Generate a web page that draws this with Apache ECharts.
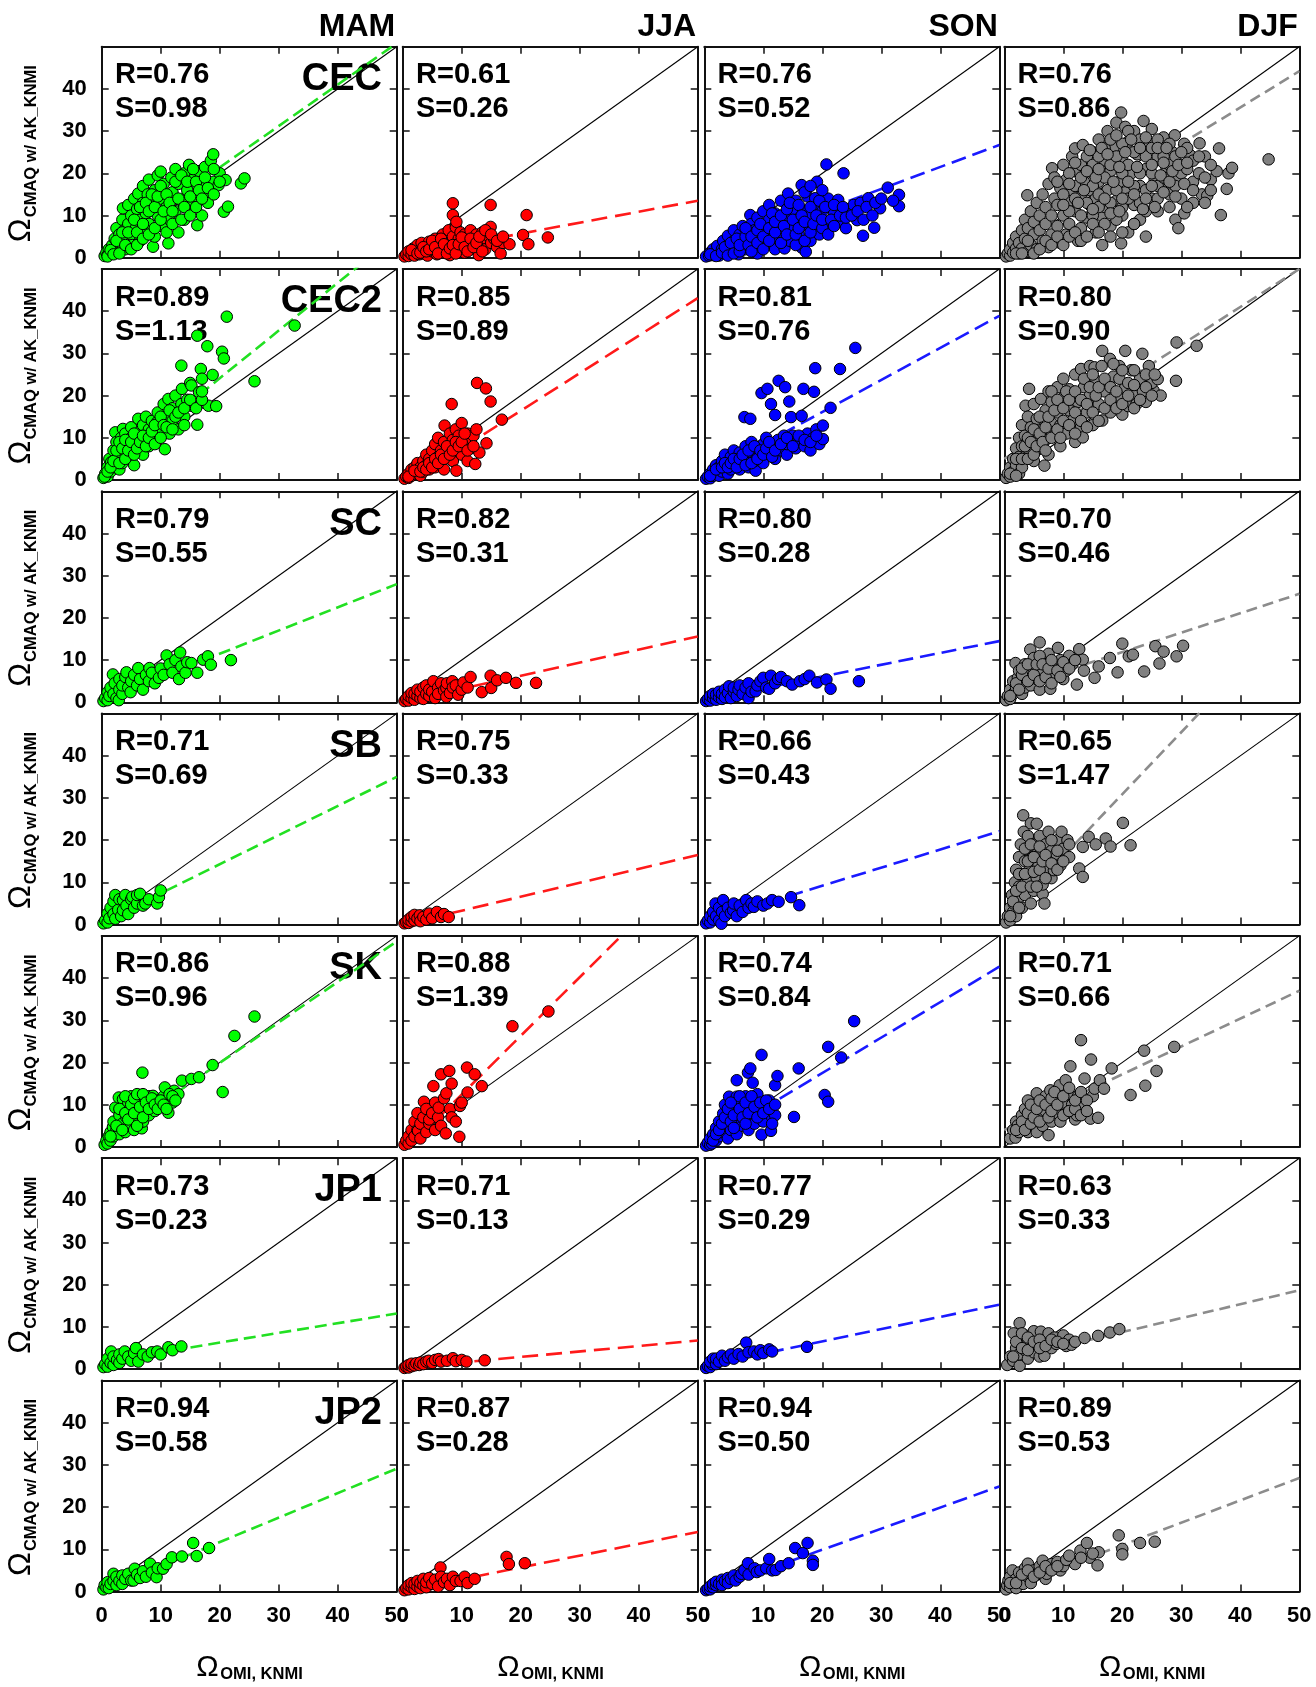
<!DOCTYPE html>
<html><head><meta charset="utf-8">
<script src="https://cdn.jsdelivr.net/npm/echarts@6/dist/echarts.min.js"></script>
<style>html,body{margin:0;padding:0;background:#fff}#c{width:1316px;height:1687px}</style>
</head><body><div id="c"></div><script>
// ---------- categories ----------
const seasons = ['MAM', 'JJA', 'SON', 'DJF'];
const regions = ['CEC', 'CEC2', 'SC', 'SB', 'SK', 'JP1', 'JP2'];
const axisTicks = [0, 10, 20, 30, 40, 50];

// ---------- statistics (rows = regions, cols = seasons) ----------
const R_vals = [
  [0.76, 0.61, 0.76, 0.76],
  [0.89, 0.85, 0.81, 0.80],
  [0.79, 0.82, 0.80, 0.70],
  [0.71, 0.75, 0.66, 0.65],
  [0.86, 0.88, 0.74, 0.71],
  [0.73, 0.71, 0.77, 0.63],
  [0.94, 0.87, 0.94, 0.89]
];
const S_vals = [
  [0.98, 0.26, 0.52, 0.86],
  [1.13, 0.89, 0.76, 0.90],
  [0.55, 0.31, 0.28, 0.46],
  [0.69, 0.33, 0.43, 1.47],
  [0.96, 1.39, 0.84, 0.66],
  [0.23, 0.13, 0.29, 0.33],
  [0.58, 0.28, 0.50, 0.53]
];
const B_vals = [
  [1.8, 0.5, 0.7, 1.2],
  [1.5, -1.4, 0.9, 5.0],
  [0.5, 0.1, 0.5, 2.7],
  [0.5, 0.0, 0.6, 1.5],
  [0.7, -1.5, 0.7, 4.0],
  [1.7, 0.3, 0.8, 2.2],
  [0.1, 0.1, -0.1, 0.4]
];

// ---------- scatter points [OMI, CMAQ] ----------
const cec_mam = [[0.5,0.4],[0.8,1.2],[1,0.6],[1.2,2],[1.5,1],[1.8,3],[2,1.6],[2.2,4.5],[2.5,2.5],[2.5,7],[2.8,1.2],[3,5.5],[3.2,3.5],[3.5,9],[3.6,11.7],[3.8,6.5],[4,2],[4.2,4.5],[4.5,12.5],[4.5,8],[5,10],[5,5.5],[5.2,3],[5.5,14],[5.8,7],[6,11.5],[6.2,15.2],[6.5,4],[6.5,9],[7,13],[7,17],[7.2,6],[7.5,10.5],[7.8,15],[8,18.5],[8,8],[8.5,12.5],[8.7,2.6],[9,16],[9,5],[9.5,19.5],[9.5,10],[10,20.4],[10,14],[10.2,7.5],[10.5,17.5],[11,12],[11.3,3.4],[11.5,9],[11.8,19],[12,15.5],[12.5,21],[12.5,11],[13,17.5],[13,6],[13.5,13.5],[14,20],[14,9],[14.5,16],[14.8,22],[15,12],[15.5,18.5],[16,14.5],[16.2,7.7],[16.5,20.5],[17,10],[17,17],[17.5,21.5],[18,13],[18.3,15.6],[18.5,23],[18.9,24.5],[19,18],[19.8,17.2],[20,20],[20.7,10.9],[21,18.4],[21.4,12.1],[23.6,17.6],[24.2,18.8],
  [1,0.3],[1.5,1.8],[2,0.8],[2.5,4],[3,1],[3.5,6],[4,3],[4.5,6],[5,2],[5.5,9],[6,6],[6,3],[6.5,12],[7,4.5],[7,8],[7.5,13],[8,5.5],[8,11],[8.5,15],[9,7],[9,12],[9.5,14.5],[10,9],[10,17],[10.5,11],[11,6],[11,15],[11.5,13],[12,8],[12,11],[12.5,18],[13,14],[13.5,9],[13.5,19.5],[14,12],[14.5,18],[15,14.5],[15,10],[15.5,21],[16,12],[16,18],[16.5,16],[17,14],[17.5,19],[18,16.5],[19,21],[19,15],[20,18]];
const cec_jja = [[0.3,0.3],[0.6,0.8],[1,0.4],[1,1.5],[1.5,0.8],[1.8,2.2],[2,0.5],[2.2,1.5],[2.5,3],[2.8,0.8],[3,2],[3.2,3.5],[3.5,1],[4,2.5],[4.2,0.5],[4.5,3.8],[5,1.5],[5,3],[5.5,4.5],[5.8,0.8],[6,2.2],[6.5,3.5],[6.8,5.5],[7,1.2],[7.2,2.8],[7.5,4.2],[7.8,6.5],[8,0.6],[8,3.5],[8.5,12.9],[8.5,10.1],[8.5,5],[9,7.2],[9.1,8.5],[9.2,2],[9.5,4.5],[9.8,6],[10,3],[10.5,1.2],[10.5,5.5],[11,3.8],[11.5,6.5],[11.5,2],[12,4.5],[12.5,5.5],[12.9,0.6],[13,3],[13.5,6],[14,4.5],[14,2],[14.5,5.2],[14.9,7.3],[14.9,12.5],[15,3.5],[15.5,4.5],[16,2.5],[16.6,1],[17,3.5],[18.1,3.2],[20.4,5.4],[21,10.1],[21.3,3.2],[24.6,4.8],
  [1.5,1.8],[2.5,1],[3,1.2],[3.5,2.5],[4,1.5],[4.5,2],[5,4],[5.5,2.5],[6,1],[6.5,4.5],[7,3.2],[7.5,1],[8,2.2],[8.5,3],[9,1],[9.5,3.2],[10,4.8],[10.5,2.5],[11,1.5],[11.5,4.5],[12,2.5],[12.5,3.5],[13,5],[13.5,1.5],[14,6.5],[15,5.5],[16,4],[17,5]];
const cec_son = [[0.3,0.3],[0.8,0.5],[1,1.2],[1.5,0.6],[1.5,2],[2,1.2],[2.2,2.8],[2.5,0.5],[3,2],[3.2,4],[3.5,1],[4,3],[4,5.2],[4.5,1.8],[5,4],[5,6.5],[5.5,2.5],[5.8,0.8],[6,5.5],[6.5,3.5],[6.5,7.5],[7,2],[7.2,6],[7.8,10.1],[7.5,4.5],[8,8],[8.5,2.8],[8.5,6.5],[9,1],[9,9.5],[9.5,4.5],[10,7.5],[10,11],[10.5,3],[10.5,5.5],[11,12.5],[11,9],[11.5,6.5],[12,2],[12,10.5],[12.5,4.5],[12.5,8],[13,13.5],[13,6],[13.6,2.2],[14,9.5],[14.2,15.2],[14.5,4],[15,11.5],[15,7],[15.5,13.5],[16,5.5],[16,9],[16.5,17.2],[16.5,2.4],[16.8,11],[17.2,1.4],[17.5,14.5],[17.5,7.5],[18,4],[18,10],[18.8,14.1],[19,12],[19.1,18],[19.1,8.9],[19.5,5.5],[20,11],[20.7,22.1],[21,14],[21,7],[22,10.5],[22.7,13.7],[23,8.5],[23.6,20],[24,7],[24.5,11.5],[25.3,12.5],[25.9,8.9],[26.5,13],[26.9,5.2],[27.8,14.1],[28.8,7.1],[29.8,11.7],[31.1,16.6],[33,14.9],[33,12.2],
  [1,0.8],[2,0.4],[3,1.2],[3.5,2.5],[4,0.5],[4.5,3.5],[5,1],[5.5,4.5],[6,1.5],[6,3],[7,5],[7,7],[7.5,3],[8,1.5],[8,5],[9,3.5],[9,6.5],[9.5,8],[10,2],[10,5],[11,4],[11,7],[11.5,10.5],[12,6],[12,8.5],[13,3.5],[13,10],[13.5,7.5],[14,5.5],[14,11.5],[14.5,13],[15,9],[15.5,3],[15.5,5.5],[16,7],[16,12.5],[16.5,10],[17,4],[17,8.5],[17,15.5],[18,6],[18,12],[18.5,8],[19,10],[19.5,13.5],[20,7],[20,9],[20.5,12],[21,5.5],[21.5,9],[22,7.5],[22,12.5],[23,10],[23.5,12],[24,9.5],[25,10],[26,11],[27,9],[27.5,12],[28.5,10],[29,13],[30,14],[32,13.5],[20,16],[18,17]];
const cec_djf = [[0.3,0.3],[0.6,1],[1,0.5],[1,2],[1.5,1.2],[1.5,3.5],[2,2.2],[2,5],[2.5,1],[2.5,3.5],[3,6.5],[3,2.2],[3.5,4.5],[3.9,14.8],[3.5,9],[4,1.5],[4,7],[4.5,3],[4.5,11],[5,5.5],[5,8.5],[5.5,13],[5.5,2],[6,10],[6,6.5],[6.5,4],[6.5,15],[7,12],[7,8],[7.5,17.5],[7.5,2.5],[8,5.5],[8.1,21.2],[8,10],[8.5,14],[8.5,19],[9,7.5],[9,12.5],[9.5,16.5],[9.5,3.5],[10,22],[10,10],[10.5,5.5],[10.5,18.5],[11,13.5],[11,8],[11.5,24],[11.5,16],[12,25.9],[12,20.5],[12,11],[12.5,4],[13,14.5],[13.3,26.7],[13,7],[13.5,18],[14,22.5],[14,9.5],[14.5,12.5],[14.5,16],[15,25],[15,20],[15.5,6],[15.5,14],[16,28],[16,18],[16.6,3],[16.5,10],[17,23],[17,12],[17.5,30],[17.5,16],[18,20.5],[18,7.5],[18.5,26],[19,13.5],[19,32],[19.5,18],[19.8,34.4],[19.8,3.4],[20,23],[20,10],[20.5,31],[20.5,15.5],[21,27.5],[21,6],[21.5,20],[22,12.5],[22,30],[22.5,24.5],[23,17],[23,9],[23.6,32.4],[24,5],[24,21],[24.5,27],[25,14],[25,30.5],[25.5,18.5],[26,24],[26,11],[26.9,17.2],[27,28.5],[27.5,21],[28,15],[28.5,25],[28.9,29],[29,9],[29.5,7],[29.5,19],[30,22],[30.5,10.5],[30.5,27],[31.5,24.3],[31.8,17.2],[32,13],[33.1,27.1],[33.5,15],[34.4,14.7],[35,18.5],[36.4,25.9],[36,20.5],[36.7,10.1],[37.7,16.3],[38,20],[38.6,21.3],[44.8,23.3],
  [9,18],[10,15],[11,20],[11,11],[12,17],[12,14],[13,22],[13,19],[13,10],[14,24],[14,13],[15,17],[15,10],[15,22],[16,15],[16,24],[16,12],[17,19],[17,26],[17,8],[18,22],[18,13],[18,28],[19,16],[19,24],[19,9],[20,20],[20,27],[20,12],[21,22],[21,14],[21,30],[22,17],[22,25],[22,8],[23,20],[23,28],[23,13],[24,24],[24,16],[24,11],[25,26],[25,20],[26,28],[26,17],[26,14],[27,24],[27,19],[28,22],[28,27],[28,12],[29,17],[29,24],[30,20],[30,14],[31,26],[31,21],[32,18],[32,23],[33,20],[34,24],[35,16],[34,13],
  [2,1],[3,1],[4,4],[5,1],[6,2],[7,4],[8,3],[9,5],[10,3],[11,5],[12,6],[13,4],[14,5],[15,8],[16,6],[18,5],[20,6],[22,8],
  [10,12.5],[11,17.5],[12,22.5],[12.5,13],[13.5,16],[14,20.5],[14.5,25.5],[15,11.5],[15.5,19],[16,21],[16.5,26],[17,14],[17.5,24.5],[18,10.5],[18.5,18],[19,29],[19.5,11],[19.5,21.5],[20,14],[20.5,25],[21,18],[21.5,28],[22,15],[22.5,21.5],[23,26],[23.5,11.5],[24,14],[24,28.5],[25,17],[25,22],[25.5,12],[26,26],[26.5,19.5],[27,15.5],[27,22.5],[27.5,26],[28,18],[28.5,20.5],[29,14.5],[29.5,22],[30,25],[30.5,17.5],[31,12],[31,22.5],[32,16],[33,24],[34,19],[35,22]];

const cec2_mam = [[0.3,0.5],[0.6,1.5],[1,0.8],[1,3],[1.3,5],[1.5,2],[1.6,4.2],[2,7],[2,3],[2.3,11.3],[2.5,5],[2.5,9],[3,2.5],[3,6.5],[3.3,10],[3.6,12.1],[3.5,4],[4,8],[4,11],[4.5,5.5],[5,10],[5,12.5],[5,7],[5.5,3.5],[6,9],[6.2,14.5],[6.5,11.5],[7,6],[7,13],[7.5,10],[7.5,15],[8,8],[8,12],[8.5,14],[9,10],[9.4,13.7],[9.5,16],[10,12],[10.5,18],[10.7,7.3],[11,15],[11.3,19.2],[11.5,11],[12,14],[12,17],[12.5,20],[13,12],[13.5,18],[13.6,21.6],[13.5,27.1],[14,15],[14.5,19],[15,23],[15.2,17.6],[15.2,22.4],[16.2,13.1],[16.5,20.8],[16.8,26.3],[16.2,34.2],[17,24],[17.9,31.7],[18.1,17.6],[18.8,24.9],[19.4,17.5],[20.4,30.4],[20.7,28.8],[21.2,38.7],[25.9,23.4],[32.7,36.6],
  [0.5,0.8],[1,2],[1.5,3],[2,4.5],[2.5,7],[3,4],[3,9],[3.5,7.5],[4,5],[4,9.5],[4.5,7],[5,9],[5.5,6],[5.5,11],[6,7.5],[6.5,9],[7,10.5],[7.5,8],[8,10],[8.5,11.5],[9,8.5],[9,13],[10,10],[10,15],[10.5,13],[11,12.5],[11.5,16.5],[12,12],[12.5,15],[13,16],[14,13],[14,17],[15,19],[16,17],[17,19],[17,21]];
const cec2_jja = [[0.3,0.3],[0.6,0.8],[1,0.5],[1,1.5],[1.5,1],[1.5,2.5],[2,1.5],[2,3],[2.5,2],[2.5,4],[3,1],[3,3],[3.5,4.5],[3.5,2],[4,3.5],[4,6],[4.5,2.5],[4.5,5],[5,4],[5,7],[5.5,3],[5.5,8.5],[6,5.5],[6,10],[6.5,4],[6.5,7],[7,9],[7.1,12.9],[7,2.5],[7.5,6],[8,8],[8,11],[8.3,18],[8.5,4.5],[8.5,9.5],[9,7],[9,12],[9.1,2.2],[9.5,10.5],[10,13.5],[10,6],[10.5,9],[11,11],[11,4.5],[11.5,7.5],[11.6,8.9],[12,10.5],[12.3,3.8],[12.6,23],[12.5,12],[13,6.5],[14.1,21.7],[14.2,8.7],[14.9,18.6],[16.8,14.3],
  [1,0.8],[2,2.2],[3,2],[3.5,3],[4,2.5],[4.5,4],[5,3],[5.5,5],[6,4],[6.5,6],[7,5],[7.5,8],[8,6],[8.5,7],[9,9],[9.5,8],[10,9],[10.5,11],[11,7],[12,8]];
const cec2_son = [[0.3,0.3],[0.6,0.8],[1,0.4],[1,1.5],[1.5,1],[1.5,2.5],[2,1.8],[2,3.5],[2.5,1],[2.5,3],[3,2],[3,4.5],[3.5,3],[3.5,6],[4,1.5],[4,4],[4.5,5.5],[4.5,2.5],[5,3.5],[5,7],[5.5,5],[6,2.5],[6,6.5],[6.5,4],[6.8,14.9],[7,8],[7,5.5],[7.5,3],[7.8,14.5],[8,6.5],[8,9],[8.7,2.2],[8.5,4.5],[9,7.5],[9.5,5.5],[9.7,20.6],[10,8.5],[10,4],[10.5,10],[10.7,21.6],[11,6.5],[11.3,18],[11.5,8],[12,15.4],[12,5],[12.5,9.5],[12.6,23.5],[13,7],[13.5,10.5],[13.7,22],[14,6],[14,8.5],[14.4,18.6],[14.7,14.9],[15,10.5],[15.5,7.5],[16,9.5],[16.5,15.2],[16.8,21.6],[17,8],[17.5,11],[18,7],[18.6,20.9],[18.8,26.5],[18.5,10],[19,12],[19.5,8.5],[20.1,9.7],[20.1,12.9],[21.4,17.1],[23,26.3],[25.6,31.3],
  [1,1],[2,2.5],[3,3],[3.5,4],[4,3],[4.5,4],[5,5],[5.5,3],[6,5],[6.5,6],[7,3.5],[7.5,7],[8,4],[8.5,8],[9,5],[9.5,7],[10,6],[10.5,7.5],[11,9],[11.5,5.5],[12,7],[13,8.5],[14,10],[15,8],[16,10.5],[17,9.5],[18,9],[19,10.5]];
const cec2_djf = [[0.3,0.5],[0.6,1.5],[1,0.8],[1,3],[1.5,2],[1.5,5],[2,3.5],[2,7.5],[2.5,1.5],[2.5,5.5],[2.5,10],[3,3],[3,8],[3,13],[3.6,17.6],[3.5,5.5],[3.5,10.5],[4,7.5],[4.2,21.6],[4,15],[4.5,12.5],[4.9,7.7],[5,4.5],[5,18],[5.5,10],[5.5,14.5],[6,7.5],[6.2,19.2],[6.5,12],[6.8,3.4],[7,16.5],[7,9.5],[7.5,21],[7.5,6],[8,13.5],[8,18.5],[8.5,10.5],[9,22],[9,16],[9.5,8],[9.5,13],[10,19.5],[10,24],[10.5,11],[11,16.5],[11,21.5],[11.5,14],[12,9],[12,25],[12.5,18.5],[13,26.3],[13,12.5],[13.3,10.1],[13.5,22],[14,16],[14.5,20],[14.5,27],[15,13],[15.3,26.7],[15.5,23.5],[16,18],[16.6,30.6],[16.6,14.1],[17,21],[17.9,28.7],[18,16],[18.5,24.5],[19,19],[19.5,27],[19.8,19.2],[20,15.5],[20.5,30.6],[20.5,22],[21,17.5],[21.5,26],[22,20],[22.4,18],[23,24],[23.4,29.9],[23.5,21],[24,18.5],[24.5,27],[25.3,21.2],[25,23],[26,23.9],[26.5,20],[29.1,23.5],[29.2,32.6],[32.6,31.8],
  [1,1.5],[2,1],[2,5],[3,5],[3.5,8],[4,10],[4,5],[4.5,9],[5,6],[5,12],[5.5,8],[6,11],[6,15],[6.5,9],[7,7],[7,12.5],[7.5,15],[8,10],[8,21],[8.5,16.5],[9,12],[9,19],[9.5,10],[10,14],[10,17],[10.5,21],[11,13],[11,19],[12,11],[12,16],[12,21],[13,14],[13,19],[13.5,24],[14,12.5],[14,18],[14.5,22],[15,16],[15,25],[15.5,20],[16,14],[16,22],[16.5,27],[17,17],[17,24],[18,19],[18,22],[18.5,27.5],[19,17],[19,21],[19.5,24],[20,18],[20,26],[21,20],[21,23],[22,17],[22,22.5],[22,26],[23,19],[24,22],[24,25],[25,20],[25.5,25]];

const sc_mam = [[0.3,0.3],[0.6,1],[1,0.5],[1,2.4],[1.3,1.5],[1.5,3.5],[1.9,6.6],[2,2],[2.2,4.5],[2.5,1],[2.9,0.5],[3,3],[3,5.5],[3.5,2],[3.5,4],[4,6],[4.2,7.1],[4.5,3.5],[4.9,2.4],[5,5],[5.5,6.5],[6,4],[6.2,8.1],[6.5,5.5],[7,3],[7.5,6.5],[8,5],[8.1,8.1],[8.5,7],[9,4.5],[9.7,5.8],[10,8],[10.5,6.5],[11,11.1],[11.5,9],[12,7],[12.5,10],[13.1,5.5],[13.3,11.8],[13.5,8.5],[14.2,7],[14.5,9.5],[15.2,9.3],[16.2,7],[17.2,10.1],[18,10.9],[18.5,8.9],[21.9,10]];
const sc_jja = [[0.3,0.3],[0.6,0.8],[1,0.4],[1,1.5],[1.5,1],[1.5,2.2],[2,0.6],[2,2],[2.5,1.5],[2.5,3],[3,1],[3,2.5],[3.5,3.5],[3.5,0.8],[4,2],[4,4],[4.5,1.5],[4.5,3],[5,2.5],[5.2,5],[5.5,1],[6,3.5],[6,2],[6.5,4.5],[7,2.8],[7.4,3.4],[7.4,1.3],[7.5,4.5],[8,2.2],[8.4,5],[8.5,3.5],[9,4],[9.4,1.8],[10,3],[10.3,4.7],[11,3.5],[11.5,6],[13.4,2.4],[14.9,6.3],[15,3.4],[16,5.2],[17.5,5.8],[19.2,4.6],[22.6,4.6]];
const sc_son = [[0.3,0.3],[0.6,0.8],[1,0.4],[1,1.5],[1.5,1],[1.5,2],[2,0.6],[2,1.8],[2.5,1.2],[2.5,2.5],[3,0.8],[3,2],[3.5,3],[3.5,1.2],[4,2.2],[4.2,3.8],[4.5,1],[5,2.5],[5,3.5],[5.5,1.5],[5.8,3],[6,4],[6.5,2],[7,3.5],[7.5,1],[7.5,4.5],[8,2.5],[8.7,2.6],[9,4],[9.5,5],[10,5.8],[10.5,3.5],[11,3.2],[11.3,6.3],[12,4.5],[12.5,5.5],[13,6],[14,5],[14.9,4.2],[16.2,5],[17,5.5],[17.8,6.3],[19.1,4.7],[20.7,5.4],[21.4,3.2],[26.2,5]];
const sc_djf = [[0.3,0.5],[0.6,1.5],[1,0.8],[1,3],[1.5,2],[1.5,5],[1.9,9.3],[2,3.5],[2.3,5.8],[2.5,7.5],[3,2],[3,5],[3.5,9],[3.5,3.5],[4,6.5],[4.4,12.5],[4.5,4],[5,8],[5,10.5],[5.5,5.5],[6,14.2],[6,3],[6.5,7],[7,9.5],[7.5,11.5],[7.8,3.2],[8,6],[8.5,8.5],[9.1,12.9],[9.5,10],[10,5.5],[10.5,7.5],[11,11],[11.5,9],[12.3,4.2],[12.7,12.6],[13.3,10.1],[13.5,7.5],[15.3,5.8],[16,8.5],[17.9,10.5],[19.2,7.1],[20,13.9],[21.1,10.9],[21.8,11.3],[23.7,7.3],[25.6,13.3],[26.3,9.2],[27,12],[29.2,10.9],[30.3,13.4],
  [1,1.5],[2,4.5],[2.5,3],[3,6.5],[3,8],[4,5],[4,9],[5,6.5],[5.5,9],[6,5],[6,11],[6.5,9],[7,6],[7.5,8],[8,10],[8,4.5],[9,7.5],[9.5,6],[10,9.5],[11,8],[12,10]];

const sb_mam = [[0.3,0.3],[0.6,1],[1,0.5],[1,2.6],[1.3,1.5],[1.5,4],[2,2.5],[2,5.5],[2.3,7],[2.3,1.4],[2.8,3.5],[3,6],[3.3,2],[3.6,5.8],[3.6,3.4],[4,7],[4.2,4.5],[4.5,2.5],[5,6],[5.2,6.6],[5.5,4],[6,5],[6,7],[6.5,7.3],[7,4.5],[7.4,5],[8,6],[9.4,5],[9.7,6.5],[10,8.1]];
const sb_jja = [[0.3,0.3],[0.6,0.6],[1,0.4],[1,1.2],[1.5,0.8],[1.5,1.8],[2,1],[2,2.3],[2.5,1.5],[2.9,2.2],[3,0.8],[3.5,1.8],[4,1.2],[4.5,2.6],[5,1.5],[5.8,3],[6.5,1.8],[7,2.5],[7.8,1.8]];
const sb_son = [[0.3,0.3],[0.6,1],[1,0.5],[1,2],[1.5,1.2],[1.5,3],[1.9,5],[2,2],[2.5,4],[2.5,1],[2.9,0.2],[3,3],[3.2,5.8],[3.5,2],[4,4],[4.5,2.8],[4.9,3.4],[5,5],[5.5,2],[6,4.5],[6.5,3],[7.1,5.8],[7.5,4],[8,5],[8.4,4.2],[9,5.5],[10,4.5],[10.7,5],[11.5,5.8],[12.6,5.4],[14.7,6.5],[16.1,4.6]];
const sb_djf = [[0.3,0.5],[0.6,2],[1,1],[1,4],[1.3,7],[1.5,3],[1.6,5],[1.8,10],[2,2],[2,13],[2.3,6],[2.5,16],[2.5,9],[2.8,19],[3,4],[3,12],[3.2,25.9],[3.3,22],[3.5,15],[3.5,7],[3.8,18],[4,10],[4,21],[4.3,13],[4.5,5],[4.5,24],[4.8,16],[5,8],[5,19],[5.5,11],[5.5,23.9],[5.8,14],[6,21],[6.2,17],[6.5,7.3],[6.5,9.5],[6.8,5],[7,13],[7,19],[7.5,15.5],[7.5,22],[8,11],[8,17.5],[8.4,12.9],[8.8,16.8],[9,20],[9.5,14],[9.7,22],[10,18],[10.7,20],[11,16],[12.7,13.3],[13.3,11.3],[13.3,18.4],[14.3,20.8],[15.5,19],[17.2,20.4],[18,18.5],[20.1,24.1],[21.4,18.8],
  [1,2],[1.5,5.5],[2,8],[2.5,4],[2.5,12],[3,9],[3.5,12],[3.5,18],[4,15],[4.5,9],[4.5,19],[5,12.5],[5,16],[5.5,9],[6,13],[6,18.5],[6.5,15],[7,11],[7,16.5],[8,14.5],[8,20],[9,13],[9,17.5],[10,15],[11,19]];

const sk_mam = [[0.5,0.5],[0.8,1.5],[1,0.8],[1.2,2.5],[1.5,1.5],[1.5,3.5],[1.9,4.7],[2,6],[2,2.5],[2.3,9.3],[2.5,4],[2.9,11.7],[3,7.5],[3,3],[3.5,5.5],[3.6,11.3],[3.8,9],[4,3.5],[4.2,7],[4.5,10.5],[4.5,5],[5,12],[5,8.5],[5.5,4],[5.5,6.5],[6,10],[6.2,12.1],[6.5,8],[6.8,4.4],[6.9,17.6],[7,11],[7,6],[7.5,9],[8,12],[8,7.5],[8.5,10],[8.7,12.1],[9,8.5],[9.5,11],[10,9.5],[10.5,12],[10.7,14.1],[11,10.5],[11.3,8.1],[11.5,11.5],[12,10.5],[12.3,13.3],[13,12.5],[13.6,15.7],[15.2,16.1],[16.5,16.5],[18.8,19.4],[20.5,13],[22.5,26.3],[25.9,30.9],
  [1.5,2.5],[2.5,5],[3,9],[3.5,4],[4,8],[4,12],[4.5,6.5],[5,10],[5.5,8],[5.5,11.5],[6,5],[6,12.5],[6.5,9.5],[7,7],[7,12.5],[7.5,10.5],[8,9],[8.5,11.5],[9,10],[9.5,9],[10,11],[10.5,10],[11,9],[11.5,12.5],[12,12],[12.5,11]];
const sk_jja = [[0.3,0.5],[0.6,1.5],[1,0.8],[1,2.5],[1.5,1.5],[1.5,4],[2,2.5],[2,6],[2.5,4],[2.6,3.8],[2.5,8],[3,2],[3,5.5],[3.5,7],[3.6,10.7],[4,3.5],[4,9],[4.5,5.5],[4.5,6.5],[5,8],[5.2,14.4],[5.5,4],[5.5,10.5],[6,7],[6.1,9.3],[6.5,17.2],[6.5,5],[7,11.5],[7.3,3.2],[7.4,12.7],[7.9,18],[8,9],[8.3,15],[8.3,7],[9,6],[9.6,2.4],[9.7,9.7],[10,10.5],[10.9,18.8],[11,12.9],[12.2,17.2],[13.4,14.4],[18.6,28.6],[24.7,32.1]];
const sk_son = [[0.3,0.3],[0.6,1],[1,0.5],[1.3,0.8],[1,2],[1.5,3],[2,1.5],[2,4.5],[2.5,6],[2.5,2.5],[3,3.5],[3.2,7.9],[3.5,10],[3.5,5],[4,2],[4.2,11.9],[4,7],[4.5,4],[5,9],[5,6],[5.5,11.9],[5.5,15.8],[5.5,3],[6,7.5],[6,10.5],[6.5,5],[7,9],[7,12],[7.4,17.6],[7.5,4],[7.8,18.6],[8,7],[8.1,10.7],[8.2,15.2],[8.5,5.5],[9,9],[9,12.5],[9.7,21.8],[9.7,2.9],[10,6],[10.5,8.5],[11,11],[11.3,3.8],[11.5,7],[12,7.5],[12,14.6],[12.4,16.8],[15.2,7.1],[16,18.6],[20.4,12.3],[21,10.7],[21,23.7],[23.2,21.2],[25.4,29.8],
  [1.5,1.5],[2,3],[2.5,4],[3,5.5],[3.5,7],[4,9],[4.5,6],[4.5,10.5],[5,4.5],[5,7.5],[6,9],[6,12],[6.5,7],[7,5.5],[7,10.5],[7.5,8],[8,12],[8.5,9.5],[9,7],[9.5,10.5],[10,8],[10.5,11],[11,9],[11.5,5.5],[12,10]];
const sk_djf = [[1,2],[1.5,4],[1.9,2.2],[2,6],[2.3,5.1],[2.5,3.5],[3,7.5],[3,4.5],[3.5,9],[3.5,6],[4,3.5],[4,11],[4.5,7.5],[5,5],[5,9.5],[5.5,12.7],[5.5,3.5],[6,7],[6.5,10.5],[6.5,5],[7,12],[7,8.5],[7.5,2.8],[7.8,13.4],[8,6],[8.5,10],[9,8],[9,12],[9.4,14.6],[9.5,6],[10,10],[10.4,15.8],[10.5,8],[11,12.5],[11.2,19.1],[11.5,10],[12,6.5],[12.3,7.5],[12.5,12],[13,25.3],[13.6,16.2],[13.5,9.5],[14.6,6.7],[14.7,20.7],[15,12],[15.3,13.8],[15.9,6.9],[16.2,15.8],[16.9,13.8],[18.2,18.6],[21.4,12.3],[23.7,22.8],[23.9,14.5],[25.8,18],[28.8,23.7],
  [2,4],[3,6],[3.5,4],[4,8],[4.5,5.5],[4.5,10],[5,7],[5.5,9],[6,11],[6,6],[7,10],[7.5,7],[8,8.5],[8,11.5],[8.5,13],[9,10],[10,7.5],[10,12],[11,8.5],[11,14],[12,9],[12,11],[13,7.5],[13,13],[14,11],[14,8.5]];

const jp1_mam = [[0.3,0.5],[0.6,1.2],[1,0.6],[1,2.5],[1.5,1.5],[1.6,4.2],[2,1],[2,3],[2.6,2.2],[3,3.5],[3,1.5],[3.5,2.5],[3.9,4.2],[4.5,3],[5,2],[5.5,3.8],[5.8,5],[6.2,1.8],[7,3.5],[7.8,3],[8.5,4],[9.4,4.2],[10,3.5],[11.3,5.2],[12,4.5],[13.5,5.4]];
const jp1_jja = [[0.3,0.3],[0.6,0.6],[1,0.4],[1,1],[1.5,0.7],[1.5,1.3],[2,0.9],[2.3,1.4],[2.8,1],[3,1.6],[3.5,1.2],[4,1.8],[4.4,2],[5,1.5],[5.5,2.2],[6.1,2.4],[6.5,1.8],[7.5,2],[8.5,2.6],[9,1.9],[10,2.2],[10.8,1.8],[13.9,2.1]];
const jp1_son = [[0.3,0.3],[0.6,0.8],[1,0.5],[1.3,1.2],[1,1.8],[1.5,2.5],[2,1.2],[2,2.5],[2.5,1.8],[3,3.2],[3.5,2],[4,2.8],[4.5,3.5],[5,2.5],[5.8,3.6],[6.5,3],[7.1,6.3],[7.5,4],[8.4,4.2],[9,3.5],[9.5,4.5],[10,3.8],[11,4.7],[11.5,4.2],[17.4,5.3]];
const jp1_djf = [[0.5,1],[1,3],[1.5,2],[1.6,8.5],[2,5],[2.6,10.9],[2.6,0.8],[2.5,3.5],[3,6.5],[3.5,4.5],[3.5,8],[4,2.5],[4,6],[4.5,7.5],[5,4],[5,9],[5.5,6],[6,3],[6.2,8.9],[6.5,5],[6.8,3.2],[7,7],[7.5,8.5],[8,5],[8.5,7.5],[8.8,6],[9.5,6.5],[10,8],[10.5,5.5],[11,7],[11.4,5.8],[12,6.5],[13.6,7.4],[15.9,7.9],[17.9,8.7],[19.5,9.5],
  [1.5,3],[2,6.5],[3,5],[3,8.5],[4,4.5],[4,7.5],[5,6.5],[6,7],[6,5],[7,5.5],[8,7],[9,6.5],[10,6]];

const jp2_mam = [[0.3,0.5],[0.5,1.5],[0.8,1],[1,2.2],[1.2,0.8],[1.5,1.8],[2,4.2],[2,2.5],[2.5,1.5],[2.5,3.5],[3,2.5],[3.5,3.8],[3.5,1.8],[4,3],[4.5,4.2],[5,2.6],[5.4,2.6],[5.6,5.4],[6,4],[6.5,3.2],[7,4.8],[7.5,3.5],[8.2,6.6],[8.5,4.5],[9.3,3.4],[9.5,5.5],[10.4,5.4],[11,6.5],[11.9,8.1],[13.6,8.3],[15.5,11.5],[16.1,8.4],[18.2,10.3]];
const jp2_jja = [[0.3,0.3],[0.6,0.8],[1,0.5],[1,1.5],[1.5,1],[1.5,2],[2,0.6],[2,1.8],[2.5,1.2],[2.5,2.5],[3,0.8],[3,2],[3.5,1.5],[3.5,3],[4,1],[4,2.2],[4.5,3.2],[5,1.8],[5.5,2.8],[6,1.2],[6.4,5.7],[6.5,3.5],[7,2.2],[7.5,3],[8,1.5],[8.5,3.5],[9,2.5],[9.8,2.5],[10.5,3.5],[11,2],[12.2,3],[17.6,8.2],[18,6.5],[20.7,6.7]];
const jp2_son = [[0.3,0.3],[0.6,0.6],[1,0.5],[1,1.2],[1.5,1],[1.5,1.8],[2,1.5],[2,2.3],[2.5,1.8],[3,2.8],[3,1.5],[3.5,2.5],[4,3.2],[4,2],[4.5,3],[5,3.8],[5.3,2.6],[6,3.5],[6.3,4.2],[6.8,5],[7.4,6.7],[7.5,4],[8.5,5.5],[8.9,4.6],[9.5,5],[10.5,5.5],[11,7.7],[11.5,5],[12.1,5.1],[13,6],[14.3,6.7],[15.4,10.3],[16.7,9.1],[17.5,11.5],[18.4,7.3],[18.4,6.3]];
const jp2_djf = [[0.3,0.5],[0.5,1.5],[0.7,2.6],[1,1],[1,3.5],[1.4,5],[1.5,2],[2,3],[2,0.8],[2.5,4.5],[3,2.5],[3.2,1.8],[3.5,5.5],[4,6.6],[4,3.5],[4.5,2],[5,5],[5.5,4],[6,6],[6.5,7.3],[7,3],[7.2,4.2],[7.5,5.5],[8,6.5],[9,7],[9.5,5],[10,6],[11.2,7.7],[12,6.5],[12.9,9.7],[14,11.5],[14.5,8],[15.8,6.2],[16,9.3],[19.4,13.3],[20,10.1],[20,8.8],[23,11.5],[25.5,11.8],
  [1,2],[2,2],[3,4],[4,5],[5,3.5],[6,4.5],[7,6],[8,5],[9,6],[10.5,7.5],[11,8.5],[13,8],[15,9]];

const points = [
  [cec_mam, cec_jja, cec_son, cec_djf],
  [cec2_mam, cec2_jja, cec2_son, cec2_djf],
  [sc_mam, sc_jja, sc_son, sc_djf],
  [sb_mam, sb_jja, sb_son, sb_djf],
  [sk_mam, sk_jja, sk_son, sk_djf],
  [jp1_mam, jp1_jja, jp1_son, jp1_djf],
  [jp2_mam, jp2_jja, jp2_son, jp2_djf]
];

// ---------- layout & style ----------
const FONT = '"Liberation Sans", Arial, Helvetica, sans-serif';
const colLeft = [101.7, 402.7, 704.3, 1004.3];
const rowTop = [46.7, 269, 491.3, 713.6, 935.9, 1158.2, 1380.5];
const PW = 295, PH = 211;
const fillColors = ['#00ff00', '#ff0000', '#0000ff', '#808080'];
const lineColors = ['#22e022', '#ff1a1a', '#1a1aff', '#8c8c8c'];
const dashes = [[12, 6], [16, 8], [15, 7], [11, 6]];

const grids = [], xAxes = [], yAxes = [], series = [], graphics = [];
const axisLineStyle = { show: true, onZero: false, lineStyle: { color: '#111', width: 2 } };
const tickStyle = { show: true, inside: true, length: 7, lineStyle: { color: '#111', width: 1.5 } };
const labelBase = { fontSize: 22, fontWeight: 'bold', color: '#000', fontFamily: FONT };

for (let r = 0; r < regions.length; r++) {
  for (let c = 0; c < seasons.length; c++) {
    const idx = r * 4 + c;
    grids.push({ left: colLeft[c], top: rowTop[r], width: PW, height: PH, show: false });
    const common = { gridIndex: idx, type: 'value', min: axisTicks[0], max: axisTicks[axisTicks.length - 1], interval: 10,
      axisLine: axisLineStyle, axisTick: tickStyle, splitLine: { show: false } };
    xAxes.push(Object.assign({}, common, { position: 'bottom',
      axisLabel: Object.assign({ show: r === regions.length - 1, margin: 13 }, labelBase) }));
    xAxes.push(Object.assign({}, common, { position: 'top', axisLabel: { show: false } }));
    yAxes.push(Object.assign({}, common, { position: 'left',
      axisLabel: Object.assign({ show: c === 0, margin: 15, showMaxLabel: false }, labelBase) }));
    yAxes.push(Object.assign({}, common, { position: 'right', axisLabel: { show: false } }));

    const xi = idx * 2, yi = idx * 2;
    series.push({ type: 'line', xAxisIndex: xi, yAxisIndex: yi, data: [[0, 0], [50, 50]], symbol: 'none',
      clip: true, silent: true, z: 3, lineStyle: { color: '#000', width: 1.1 } });
    const S = S_vals[r][c], B = B_vals[r][c];
    series.push({ type: 'line', xAxisIndex: xi, yAxisIndex: yi, data: [[0, B], [50, B + 50 * S]], symbol: 'none',
      clip: true, silent: true, z: 3, lineStyle: { color: lineColors[c], width: 2.6, type: dashes[c] } });
    series.push({ type: 'scatter', xAxisIndex: xi, yAxisIndex: yi, data: points[r][c], symbolSize: 11.5,
      clip: false, silent: true, z: 5,
      itemStyle: { color: fillColors[c], borderColor: '#000', borderWidth: 1, opacity: 1 } });

    const lx = colLeft[c] + 13.3, ty = rowTop[r];
    graphics.push({ type: 'text', z: 1, x: lx, y: ty + 28.5, style: { text: 'R=' + R_vals[r][c].toFixed(2),
      font: 'bold 29px ' + FONT, fill: '#000', textAlign: 'left', textVerticalAlign: 'middle', align: 'left', verticalAlign: 'middle' } });
    graphics.push({ type: 'text', z: 1, x: lx, y: ty + 62.5, style: { text: 'S=' + S_vals[r][c].toFixed(2),
      font: 'bold 29px ' + FONT, fill: '#000', textAlign: 'left', textVerticalAlign: 'middle', align: 'left', verticalAlign: 'middle' } });
  }
  graphics.push({ type: 'text', z: 1, x: colLeft[0] + PW - 14.7, y: rowTop[r] + 32.8, style: { text: regions[r],
    font: 'bold 38px ' + FONT, fill: '#000', textAlign: 'right', textVerticalAlign: 'middle', align: 'right', verticalAlign: 'middle' } });
  const rc = rowTop[r] + PH / 2;
  graphics.push({ type: 'text', z: 1, x: 21.5, y: rc + 78, rotation: Math.PI / 2, style: { text: 'Ω',
    font: '32px ' + FONT, fill: '#000', textAlign: 'center', textVerticalAlign: 'middle', align: 'center', verticalAlign: 'middle' } });
  graphics.push({ type: 'text', z: 1, x: 31, y: rc - 11, rotation: Math.PI / 2, style: { text: 'CMAQ w/ AK_KNMI',
    font: 'bold 16.5px ' + FONT, fill: '#000', textAlign: 'center', textVerticalAlign: 'middle', align: 'center', verticalAlign: 'middle' } });
}
for (let c = 0; c < seasons.length; c++) {
  graphics.push({ type: 'text', z: 1, x: colLeft[c] + PW - 1.5, y: 26.7, style: { text: seasons[c],
    font: 'bold 32px ' + FONT, fill: '#000', textAlign: 'right', textVerticalAlign: 'middle', align: 'right', verticalAlign: 'middle' } });
  const cc = colLeft[c] + PW / 2;
  graphics.push({ type: 'text', z: 1, x: cc - 41.7, y: 1668, style: { text: 'Ω',
    font: '30px ' + FONT, fill: '#000', textAlign: 'center', textVerticalAlign: 'middle', align: 'center', verticalAlign: 'middle' } });
  graphics.push({ type: 'text', z: 1, x: cc + 12.3, y: 1674.5, style: { text: 'OMI, KNMI',
    font: 'bold 16.5px ' + FONT, fill: '#000', textAlign: 'center', textVerticalAlign: 'middle', align: 'center', verticalAlign: 'middle' } });
}

const chart = echarts.init(document.getElementById('c'), null, { renderer: 'canvas' });
chart.setOption({
  backgroundColor: '#fff',
  animation: false,
  textStyle: { fontFamily: FONT },
  grid: grids,
  xAxis: xAxes,
  yAxis: yAxes,
  series: series,
  graphic: { elements: graphics }
});
</script></body></html>
